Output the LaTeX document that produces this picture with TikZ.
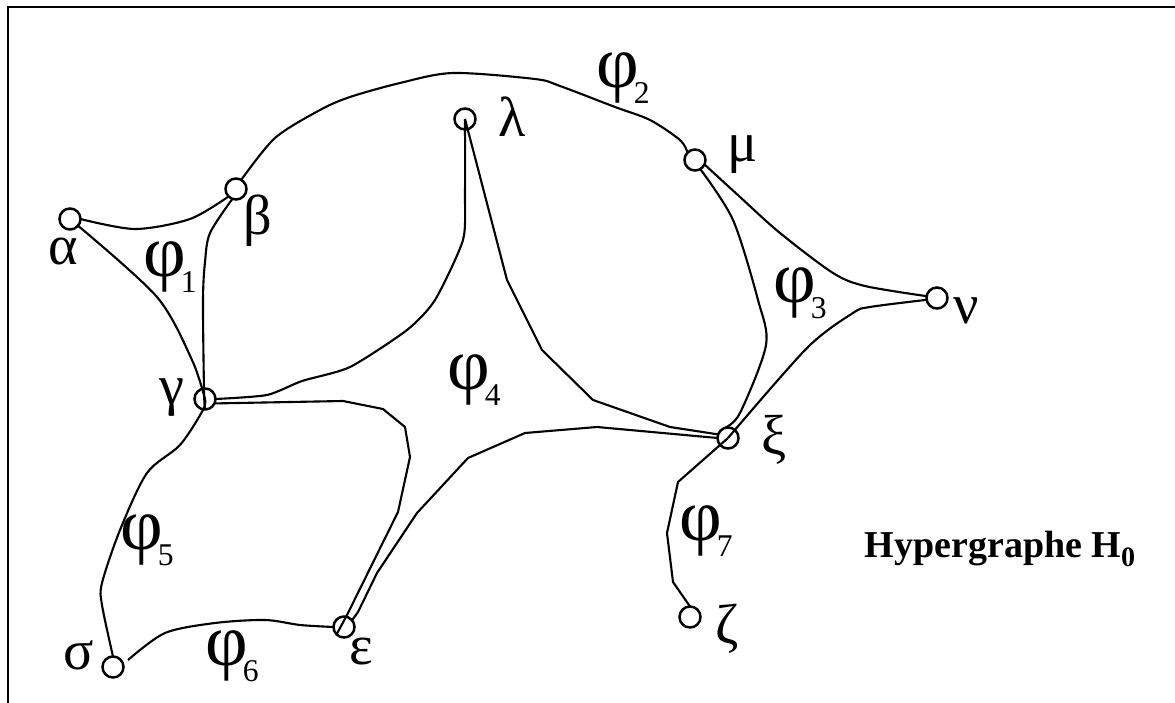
\documentclass[tikz,border=0pt]{standalone}
\usepackage{fontspec}
\setmainfont{Liberation Serif}
\usepackage{tikz}

% hyperedge label: phi with a small lowered index
\newcommand{\hlab}[1]{{\fontsize{21}{21}\selectfont φ}\kern-1.5pt\raisebox{-4.6pt}{\fontsize{9}{9}\selectfont #1}}

\begin{document}
\begin{tikzpicture}[
  x=0.01cm, y=-0.01cm,
  every node/.style = {inner sep=0pt, outer sep=0pt},
  vertex/.style     = {draw, circle, line width=0.7pt, minimum size=0.21cm},
  vlab/.style       = {font=\fontsize{16}{16}\selectfont},
  hline/.style      = {line width=0.6pt, line join=round},
]
\useasboundingbox (0,0) rectangle (1175,703);

%% ── Frame (top and left sides only) ─────────────────────────────────────
\draw[line width=0.8pt] (8,703) -- (8,7) -- (1175,7);

%% ── Vertices ────────────────────────────────────────────────────────────
\node[vertex] (alpha)  at (70,219)  {};
\node[vertex] (beta)   at (236,189) {};
\node[vertex] (lambda) at (465,119) {};
\node[vertex] (mu)     at (695,160) {};
\node[vertex] (nu)     at (937,298) {};
\node[vertex] (gamma)  at (205,399) {};
\node[vertex] (xi)     at (728,438) {};
\node[vertex] (zeta)   at (690,617) {};
\node[vertex] (sigma)  at (113,667) {};
\node[vertex] (eps)    at (344,627) {};

% vertex names
\node[vlab] (l-alpha)  at (63,252)  {α};
\node[vlab] (l-beta)   at (258,221) {β};
\node[vlab] (l-lambda) at (512,117) {λ};
\node[vlab] (l-mu)     at (743,155) {μ};
\node[vlab] (l-nu)     at (966,311) {ν};
\node[vlab] (l-gamma)  at (172,398) {γ};
\node[vlab] (l-xi)     at (774,440) {ξ};
\node[vlab] (l-zeta)   at (727,629) {ζ};
\node[vlab] (l-sigma)  at (79,655)  {σ};
\node[vlab] (l-eps)    at (361,652) {ε};

%% ── Hyperedges ──────────────────────────────────────────────────────────
% phi1 : alpha, beta, gamma
\draw[hline] plot[smooth, tension=.5] coordinates
  {(alpha.east) (135,229) (190,219) (beta.225)};
\draw[hline] plot[smooth, tension=.5] coordinates
  {(alpha.-40) (157,297) (192,360) (gamma.center)};
\draw[hline] plot[smooth, tension=.5] coordinates
  {(beta.250) (210,233) (205,262) (203,300) (204,390) (gamma.south)};

% phi2 : beta, mu
\draw[hline] plot[smooth, tension=.5] coordinates
  {(beta.60) (275,138) (320,110) (350,97) (400,83) (453,73) (535,79)
   (560,86) (615,107) (650,120) (680,140) (mu.135)};

% phi3 : mu, nu, xi
\draw[hline] plot[smooth, tension=.5] coordinates
  {(mu.-60) (733,220) (758,300) (766,345) (740,413) (xi.110)};
\draw[hline] plot[smooth, tension=.5] coordinates
  {(mu.-25) (740,197) (780,233) (833,273) (865,286) (nu.170)};
\draw[hline] plot[smooth, tension=.5] coordinates
  {(nu.190) (870,307) (853,313) (807,348) (xi.center)};

% phi4 : gamma, lambda, xi, eps
\draw[hline] plot[smooth, tension=.4] coordinates
  {(gamma.east) (267,395) (302,381) (350,367) (407,330) (435,300)
   (463,240) (465,193) (lambda.center)};
\draw[hline] (lambda.center) -- (507,280) -- (517,300) -- (542,350)
  -- (593,400) -- (670,427) -- (xi.160);
\draw[hline] (gamma.-25) -- (343,401) -- (383,409) -- (405,427)
  -- (410,457) -- (398,512) -- (347,615) -- (eps.south west);
\draw[hline] (eps.40) -- (358,612) -- (377,573) -- (417,513) -- (468,458)
  -- (525,433) -- (597,427) -- (xi.west);

% phi5 : gamma, sigma
\draw[hline] plot[smooth, tension=.5] coordinates
  {(gamma.center) (203,410) (180,445) (147,473) (120,530) (102,583)
   (102,605) (sigma.north)};

% phi6 : sigma, eps
\draw[hline] plot[smooth, tension=.5] coordinates
  {(128,660) (165,633) (215,623) (265,620) (300,625) (eps.west)};

% phi7 : xi, zeta
\draw[hline] (xi.center) -- (678,482) -- (667,533) -- (673,582) -- (zeta.north);

% hyperedge names
\node (f1) at (170,267) {\hlab{1}};
\node (f2) at (623,78)  {\hlab{2}};
\node (f3) at (800,293) {\hlab{3}};
\node (f4) at (474,380) {\hlab{4}};
\node (f5) at (147,540) {\hlab{5}};
\node (f6) at (232,656) {\hlab{6}};
\node (f7) at (706,531) {\hlab{7}};

%% ── Title ───────────────────────────────────────────────────────────────
\node[font=\fontsize{10.8}{12}\selectfont\bfseries] (title) at (1000,549)
  {Hypergraphe H\raisebox{-2.5pt}{\fontsize{8}{8}\selectfont 0}};

\end{tikzpicture}
\end{document}
